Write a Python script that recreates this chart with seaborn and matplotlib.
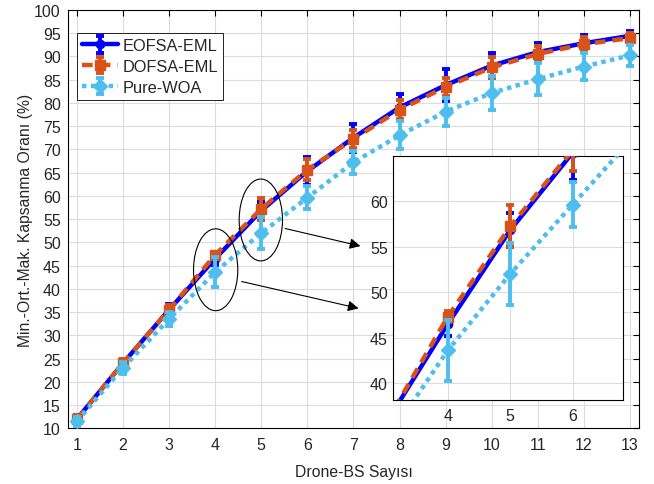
import numpy as np
import pandas as pd
import matplotlib
matplotlib.use("Agg")
import matplotlib.pyplot as plt
import seaborn as sns
from matplotlib.patches import Ellipse
from matplotlib.legend_handler import HandlerTuple

# ---- data ----
drones = [1, 2, 3, 4, 5, 6, 7, 8, 9, 10, 11, 12, 13]
eofsa = [12.0, 24.0, 35.5, 46.5, 56.8, 65.3, 72.5, 79.0, 83.8, 88.0, 90.9, 92.8, 94.4]
eofsa_err = [0.8, 1.0, 1.2, 1.3, 1.9, 3.0, 3.0, 2.8, 3.4, 2.6, 1.9, 1.8, 1.1]
dofsa = [12.0, 24.0, 35.5, 47.3, 57.2, 65.6, 72.2, 78.5, 83.4, 87.6, 90.5, 92.6, 93.9]
dofsa_err = [0.8, 1.0, 1.0, 0.6, 2.3, 2.3, 2.0, 2.0, 2.0, 2.2, 1.8, 1.5, 1.2]
woa = [11.5, 23.0, 33.5, 43.6, 52.0, 59.6, 67.2, 73.0, 78.1, 82.1, 85.1, 87.8, 90.2]
woa_err = [1.0, 1.3, 1.6, 3.3, 3.4, 2.5, 2.5, 3.0, 3.0, 3.7, 3.5, 3.0, 2.3]
labels = ["EOFSA-EML", "DOFSA-EML", "Pure-WOA"]
main_xticks = list(range(1, 14))
main_yticks = list(range(10, 101, 5))
inset_xticks = [4, 5, 6]
inset_yticks = [40, 45, 50, 55, 60]

sns.set_theme(style="whitegrid")
plt.rcParams["font.family"] = ["Liberation Sans", "DejaVu Sans"]
TXT = "#262626"

series = [
    (labels[0], eofsa, eofsa_err, "#0000FF", "-", "o", 6),
    (labels[1], dofsa, dofsa_err, "#D95319", (0, (2.4, 1.6)), "s", 6.5),
    (labels[2], woa, woa_err, "#4DBEEE", (0, (1, 1)), "D", 7),
]

fig = plt.figure(figsize=(6.54, 4.85), dpi=100)
ax = fig.add_axes([0.1035, 0.1148, 0.874, 0.863])


def draw(a):
    handles = []
    for i, (name, y, e, c, ls, mk, ms) in enumerate(series):
        z = 3 + i
        eb = a.errorbar(drones, y, yerr=e, fmt="none", ecolor=c, elinewidth=2.8,
                        capsize=3, capthick=2.8, zorder=z)
        sns.lineplot(x=drones, y=y, ax=a, color=c, lw=3.2, linestyle=ls, marker=mk,
                     markersize=ms, markeredgecolor=c, markerfacecolor=c,
                     markeredgewidth=1, zorder=z, legend=False)
        line = a.lines[-1]
        line.set_linestyle(ls)
        handles.append((eb, line))
    return handles


def style(a):
    a.set_facecolor("white")
    for s in a.spines.values():
        s.set_color("black")
        s.set_linewidth(0.8)
        s.set_visible(True)
    a.grid(True, color="#dcdcdc", lw=0.8)
    a.tick_params(direction="in", length=4, width=0.8, top=True, right=True,
                  colors="black", labelcolor=TXT, labelsize=11.5)


handles = draw(ax)
style(ax)
ax.tick_params(axis="x", pad=6)
ax.tick_params(axis="y", pad=5)
ax.set_xlim(0.8, 13.2)
ax.set_ylim(10, 100)
ax.set_xticks(main_xticks)
ax.set_yticks(main_yticks)
ax.set_xlabel("Drone-BS Sayısı", fontsize=11.3, color=TXT, labelpad=9)
ax.set_ylabel("Min.-Ort.-Mak. Kapsanma Oranı (%)", fontsize=11.3, color=TXT, labelpad=0.5)

leg = ax.legend(handles, labels, handler_map={tuple: HandlerTuple(ndivide=1, pad=0)},
                loc="upper left", bbox_to_anchor=(0.0168, 0.944), borderaxespad=0,
                fontsize=11.8, frameon=True, fancybox=False, edgecolor="black",
                framealpha=1, handlelength=2.2, handletextpad=0.25,
                labelspacing=0.35, borderpad=0.3, labelcolor=TXT)
leg.get_frame().set_linewidth(0.6)

# ellipses and arrows
ax.add_patch(Ellipse((4.01, 44.1), 0.96, 17.6, fill=False, ec="black", lw=0.8, zorder=10))
ax.add_patch(Ellipse((4.99, 54.8), 0.94, 17.6, fill=False, ec="black", lw=0.8, zorder=10))
arrow_kw = dict(arrowstyle="-|>", color="black", lw=0.8, mutation_scale=16)
ax.annotate("", xy=(7.17, 35.66), xytext=(4.515, 41.7), arrowprops=arrow_kw, zorder=10)
ax.annotate("", xy=(7.21, 49.05), xytext=(5.46, 53.1), arrowprops=arrow_kw, zorder=10)

# inset
axin = fig.add_axes([0.6005, 0.1738, 0.3517, 0.502])
draw(axin)
style(axin)
axin.tick_params(top=False, right=False)
axin.tick_params(axis="x", pad=6)
axin.set_xlim(3.12, 6.8)
axin.set_ylim(38.2, 64.9)
axin.set_xticks(inset_xticks)
axin.set_yticks(inset_yticks)
axin.set_xlabel("")
axin.set_ylabel("")

fig.savefig("out.png", dpi=100)
